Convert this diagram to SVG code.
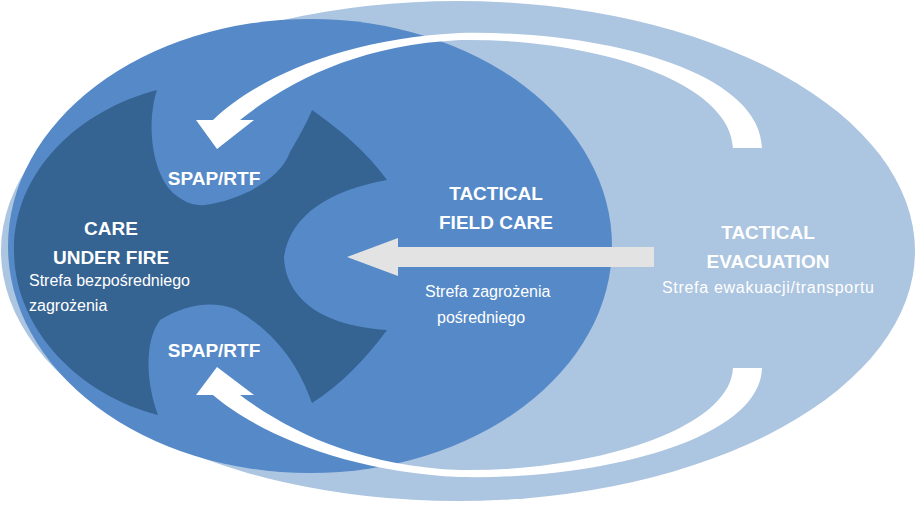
<svg xmlns="http://www.w3.org/2000/svg" width="916" height="505" viewBox="0 0 916 505">
<style>
text{font-family:"Liberation Sans",Arial,sans-serif;fill:#fff}
.b{font-weight:bold;font-size:19px}
.s{font-size:16px}
.c{text-anchor:middle}
</style>
<g id="zone-evacuation">
<ellipse cx="458" cy="251" rx="457" ry="250" fill="#acc5e0"/>
<text class="b c" x="768" y="239">TACTICAL</text>
<text class="b c" x="768" y="268">EVACUATION</text>
<text class="s c" x="768" y="293" textLength="212">Strefa ewakuacji/transportu</text>
</g>
<g id="zone-field-care">
<ellipse cx="310" cy="246" rx="302" ry="227" fill="#5589c8"/>
<text class="b c" x="496" y="200">TACTICAL</text>
<text class="b c" x="496" y="229">FIELD CARE</text>
<text class="s" x="425" y="297">Strefa zagrożenia</text>
<text class="s" x="437" y="323">pośredniego</text>
</g>
<g id="zone-care-under-fire">
<path fill="#356392" d="M157,90 C147,120 150,170 173,193 C185,203 195,206 205,205 C240,200 280,180 290,152 C300,135 308,120 312,110 C340,130 365,150 387,180 C330,190 290,215 284,257 C285,290 310,325 387,330 C365,360 340,385 312,403 C300,370 280,335 235,309 C210,300 185,305 160,320 C145,340 145,380 158,415 C80,395 14,330 14,250 C14,170 80,110 157,90 Z"/>
<text class="b c" x="111" y="235">CARE</text>
<text class="b c" x="111" y="264">UNDER FIRE</text>
<text class="s" x="29" y="286">Strefa bezpośredniego</text>
<text class="s" x="29" y="311">zagrożenia</text>
</g>
<g id="spap-top"><text class="b c" x="214" y="185">SPAP/RTF</text></g>
<g id="spap-bottom"><text class="b c" x="214" y="357">SPAP/RTF</text></g>
<g id="connectors">
<path fill="#fff" d="M762,148 C760,70 600,30 460,33 C350,38 260,75 213,120 L196,120 L217,149 L254,120 L240,120 C290,80 360,45 460,40 C590,38 730,80 733,148 Z"/>
<path fill="#fff" d="M762,368 C760,440 600,480 460,477 C350,472 260,435 213,395 L196,395 L217,367 L254,395 L240,395 C290,432 360,466 460,470 C590,472 730,430 733,368 Z"/>
<path fill="#e3e3e3" d="M654,247 L398,247 L398,238 L347,257 L398,276 L398,267 L654,267 Z"/>
</g>
</svg>
